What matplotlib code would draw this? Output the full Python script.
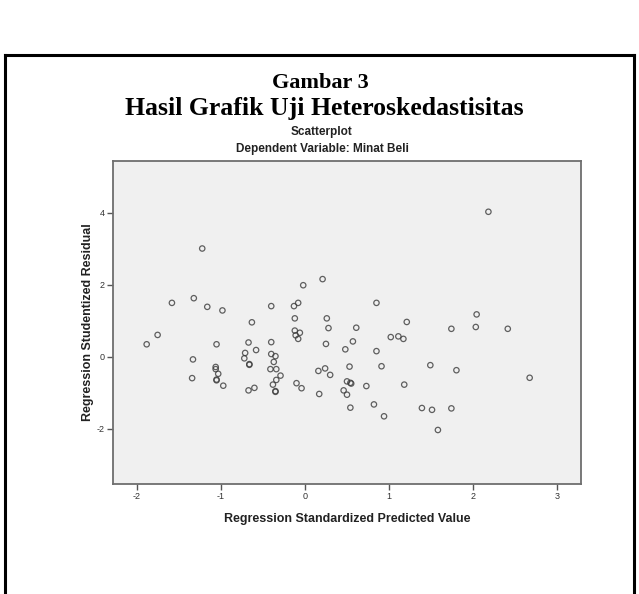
import matplotlib
matplotlib.use("Agg")
import matplotlib.pyplot as plt
from matplotlib.lines import Line2D

pred_x = [-1.22, 2.18, -1.58, -1.32, -1.16, -0.98, -0.40, -0.13, -0.08, -0.02,
          0.21, 0.85, -0.63, -0.12, 0.26, 0.28, -0.12, -0.06, -0.11, -0.08,
          -1.75, -1.88, -1.05, -0.67, -0.40, 0.25, 0.48, -0.58, -0.71, -0.72,
          -0.40, -0.35, -0.37, -1.33, -0.66, -0.66, -1.06, -1.06, -1.03, -1.05,
          -1.05, -0.97, -1.34, -0.41, -0.34, -0.29, -0.34, -0.38, -0.35, -0.35,
          -0.60, -0.67, -0.10, -0.04, 0.16, 0.24, 0.30, 0.17, 0.53, 0.50,
          0.55, 0.54, 0.46, 0.50, 0.54, 0.61, 1.21, 2.04, 2.03, 1.74,
          2.41, 1.02, 1.11, 1.17, 0.57, 0.85, 0.91, 1.49, 1.80, 2.67,
          0.73, 1.18, 0.82, 0.94, 1.39, 1.51, 1.74, 1.58]
resid_y = [3.01, 4.03, 1.50, 1.63, 1.39, 1.29, 1.41, 1.41, 1.50, 1.99,
           2.16, 1.50, 0.96, 1.07, 1.07, 0.80, 0.73, 0.67, 0.60, 0.50,
           0.61, 0.35, 0.35, 0.40, 0.41, 0.36, 0.21, 0.19, 0.11, -0.04,
           0.08, 0.02, -0.14, -0.07, -0.22, -0.20, -0.28, -0.34, -0.47, -0.65,
           -0.63, -0.80, -0.59, -0.34, -0.34, -0.52, -0.64, -0.77, -0.97, -0.95,
           -0.86, -0.93, -0.73, -0.87, -0.39, -0.32, -0.50, -1.03, -0.27, -0.68,
           -0.74, -0.72, -0.93, -1.05, -1.41, 0.81, 0.97, 1.18, 0.83, 0.78,
           0.78, 0.55, 0.57, 0.50, 0.43, 0.16, -0.26, -0.23, -0.37, -0.58,
           -0.81, -0.77, -1.32, -1.65, -1.42, -1.47, -1.43, -2.03]
x_ticks = [-2, -1, 0, 1, 2, 3]
y_ticks = [-2, 0, 2, 4]

W, H = 639, 594
fig = plt.figure(figsize=(W / 100, H / 100), dpi=100)
fig.patch.set_facecolor("white")

# outer border (top, left, right)
for xs, ys in [([5 / W, 634 / W], [1 - 55 / H, 1 - 55 / H]),
               ([5 / W, 5 / W], [1 - 55 / H, 0]),
               ([634 / W, 634 / W], [1 - 55 / H, 0])]:
    fig.add_artist(Line2D(xs, ys, transform=fig.transFigure, color="black", lw=2.2))

serif = ["Liberation Serif", "DejaVu Serif"]
fig.text(320 / W, 1 - 83 / H, "Gambar 3", ha="center", va="center",
         fontsize=16, fontweight="bold", family=serif)
fig.text(324 / W, 1 - 108 / H, "Hasil Grafik Uji Heteroskedastisitas", ha="center", va="center",
         fontsize=18.5, fontweight="bold", family=serif)
sans = ["Liberation Sans", "DejaVu Sans"]
fig.text(322 / W, 1 - 132 / H, "Scatterplot", ha="center", va="center",
         fontsize=8.5, fontweight="bold", family=sans, color="#222222")
fig.text(322 / W, 1 - 149 / H, "Dependent Variable: Minat Beli", ha="center", va="center",
         fontsize=8.5, fontweight="bold", family=sans, color="#222222")

left, right, top, bottom = 113, 581, 161, 484
ax = fig.add_axes([left / W, 1 - bottom / H, (right - left) / W, (bottom - top) / H])
ax.set_facecolor("#F0F0F0")
ax.scatter(pred_x, resid_y, s=15, facecolors="none", edgecolors="#3a3a3a",
           linewidths=0.9, alpha=0.8, zorder=3)
ax.set_xlim(-2.28, 3.28)
ax.set_ylim(-3.53, 5.44)
ax.set_xticks(x_ticks)
ax.set_yticks(y_ticks)
ax.set_xticklabels([str(v) for v in x_ticks], family=sans, fontsize=6.5, color="#333333")
ax.set_yticklabels([str(v) for v in y_ticks], family=sans, fontsize=6.5, color="#333333")
ax.tick_params(direction="out", length=4, width=1, color="#555555", pad=2)
for sp in ax.spines.values():
    sp.set_color("#6e6e6e")
    sp.set_linewidth(1.3)
ax.set_xlabel("Regression Standardized Predicted Value", family=sans, fontsize=9,
              fontweight="bold", color="#222222")
ax.set_ylabel("Regression Studentized Residual", family=sans, fontsize=9,
              fontweight="bold", color="#222222")
ax.xaxis.set_label_coords(0.5, (484 - 519) / (bottom - top))
ax.yaxis.set_label_coords((88 - 113) / (right - left), 0.5)
ax.xaxis.label.set_va("center")
ax.yaxis.label.set_va("center")

fig.savefig("out.png", dpi=100)
